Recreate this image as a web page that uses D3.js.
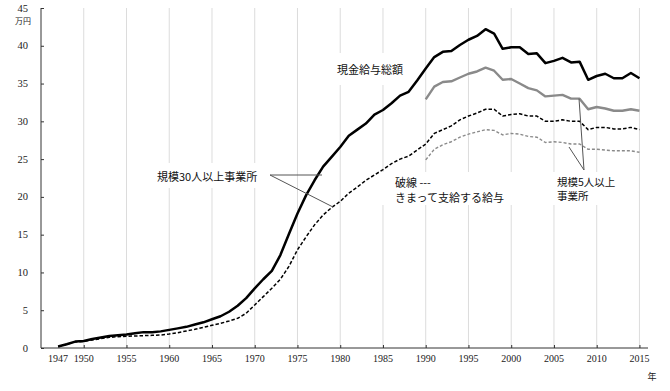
<!DOCTYPE html>
<html><head><meta charset="utf-8">
<script src="https://cdn.jsdelivr.net/npm/d3@7"></script>
<style>
html,body{margin:0;padding:0;background:#fff;}
svg{display:block;}
.jp{font-family:"Noto Sans CJK JP","Noto Sans",sans-serif;}
.num{font-family:"Liberation Serif","DejaVu Serif",serif;}
</style></head>
<body>
<script>
// ---- data ----
const years30 = d3.range(1947, 2016);           // 規模30人以上事業所
const years5  = d3.range(1990, 2016);           // 規模5人以上事業所
const total30 = [0.2,0.5,0.85,0.93,1.2,1.4,1.6,1.7,1.8,1.95,2.1,2.1,2.2,2.4,2.6,2.8,3.1,3.4,3.8,4.2,4.8,5.6,6.6,7.9,9.1,10.2,12.3,15.1,17.8,20.2,22.2,24.0,25.3,26.6,28.1,28.9,29.7,30.9,31.5,32.4,33.4,33.9,35.4,37.0,38.5,39.2,39.3,40.1,40.8,41.3,42.2,41.6,39.6,39.8,39.8,38.9,39.0,37.7,38.0,38.4,37.8,37.9,35.5,36.0,36.3,35.7,35.7,36.4,35.7];
const regular30 = [0.15,0.5,0.8,0.88,1.06,1.24,1.41,1.5,1.54,1.59,1.63,1.68,1.72,1.85,2.03,2.25,2.47,2.73,3.0,3.26,3.57,3.93,4.6,5.7,6.8,7.9,9.1,10.8,13.0,14.7,16.3,17.6,18.6,19.4,20.5,21.3,22.2,22.9,23.6,24.4,25.0,25.4,26.2,27.0,28.4,28.9,29.4,30.2,30.7,31.1,31.6,31.6,30.7,30.9,31.0,30.7,30.7,30.0,30.0,30.2,30.0,30.0,28.9,29.2,29.2,29.0,29.0,29.2,28.9];
const total5 = [32.9,34.6,35.2,35.3,35.8,36.3,36.6,37.1,36.7,35.5,35.6,35.0,34.4,34.1,33.3,33.4,33.5,33.0,33.0,31.6,31.9,31.7,31.4,31.4,31.6,31.4];
const regular5 = [24.9,26.3,26.9,27.3,27.9,28.3,28.6,28.9,28.8,28.2,28.4,28.3,28.0,27.9,27.2,27.3,27.2,27.0,27.0,26.3,26.3,26.2,26.1,26.1,26.1,25.9];
const xTickYears = [1947,1950,1955,1960,1965,1970,1975,1980,1985,1990,1995,2000,2005,2010,2015];
const gridYears = [1950,1955,1960,1965,1970,1975,1980,1985,1990,1995,2000,2005,2010,2015];
const yTicks = [0,5,10,15,20,25,30,35,40,45];
const yUnit = "万円", xUnit = "年";
const labelTotal = "現金給与総額";
const label30 = "規模30人以上事業所";
const labelDash = ["破線 ---", "きまって支給する給与"];
const label5 = ["規模5人以上", "事業所"];

// ---- chart ----
const W = 670, H = 391;
const svg = d3.select("body").append("svg").attr("width", W).attr("height", H);
const x = d3.scaleLinear().domain([1945, 2016]).range([41, 648]);
const y = d3.scaleLinear().domain([0, 45]).range([348, 8]);

// gridlines
svg.append("g").selectAll("line").data(gridYears).join("line")
  .attr("x1", d => x(d)).attr("x2", d => x(d))
  .attr("y1", y(45)).attr("y2", y(0))
  .attr("stroke", "#dcdcdc").attr("stroke-width", 1);

// lines
const line = (ys) => d3.line().x((d, i) => x(ys[i])).y(d => y(d));
function drawSeries(vals, ys, color, width, dash) {
  svg.append("path").datum(vals).attr("d", line(ys))
    .attr("fill", "none").attr("stroke", color).attr("stroke-width", width)
    .attr("stroke-linejoin", "round")
    .attr("stroke-dasharray", dash || null);
}
drawSeries(total5, years5, "#8a8a8a", 2.4);
drawSeries(regular5, years5, "#8a8a8a", 1.4, "3,2");
drawSeries(regular30, years30, "#000", 1.5, "3.5,2");
drawSeries(total30, years30, "#000", 2.5);

// axes
const ax = d3.axisBottom(x).tickValues(gridYears).tickSize(-3).tickFormat("");
svg.append("g").attr("transform", `translate(0,${y(0)})`).call(ax)
  .call(g => g.select(".domain").attr("stroke", "#333").attr("d", `M${x(1945)},0H648`))
  .call(g => g.selectAll(".tick line").attr("stroke", "#333"));
const ay = d3.axisLeft(y).tickValues(yTicks).tickSize(-3).tickFormat("");
svg.append("g").attr("transform", `translate(${x(1945)},0)`).call(ay)
  .call(g => g.select(".domain").attr("stroke", "#333").attr("d", `M0,${y(45)}V${y(0)}`))
  .call(g => g.selectAll(".tick line").attr("stroke", "#333"));

// tick labels
svg.append("g").selectAll("text").data(xTickYears).join("text")
  .attr("class", "num").attr("x", d => x(d)).attr("y", y(0) + 14)
  .attr("text-anchor", "middle").attr("font-size", 10).attr("fill", "#222")
  .text(d => d);
svg.append("g").selectAll("text").data(yTicks).join("text")
  .attr("class", "num").attr("x", 28).attr("y", d => y(d) + 3.5)
  .attr("text-anchor", "end").attr("font-size", 10.5).attr("fill", "#222")
  .text(d => d);
svg.append("text").attr("class", "jp").attr("x", 23).attr("y", 24)
  .attr("text-anchor", "middle").attr("font-size", 8).attr("fill", "#222").text(yUnit);
svg.append("text").attr("class", "jp").attr("x", 652).attr("y", 380)
  .attr("text-anchor", "middle").attr("font-size", 9).attr("fill", "#222").text(xUnit);

// labels with white boxes
function box(x0, y0, w, h) {
  svg.append("rect").attr("x", x0).attr("y", y0).attr("width", w).attr("height", h).attr("fill", "#fff");
}
function leader(x1, y1, x2, y2) {
  svg.append("line").attr("x1", x1).attr("y1", y1).attr("x2", x2).attr("y2", y2)
    .attr("stroke", "#555").attr("stroke-width", 1);
}
function label(t, lx, ly, size) {
  svg.append("text").attr("class", "jp").attr("x", lx).attr("y", ly)
    .attr("font-size", size || 11).attr("fill", "#111").text(t);
}
box(333, 53, 78, 32);
label(labelTotal, 337, 74);

box(150, 163, 116, 25);
label(label30, 157, 181);
leader(270, 175, 322, 175);
leader(270, 175, 333, 207);

box(379, 172, 136, 33);
label(labelDash[0], 395, 187);
label(labelDash[1], 395, 202);

box(552, 172, 70, 33);
leader(584, 170, 579, y(33.0));
leader(584, 170, 569, 147);
label(label5[0], 557, 186, 10.5);
label(label5[1], 557, 200, 10.5);
</script>
</body></html>
